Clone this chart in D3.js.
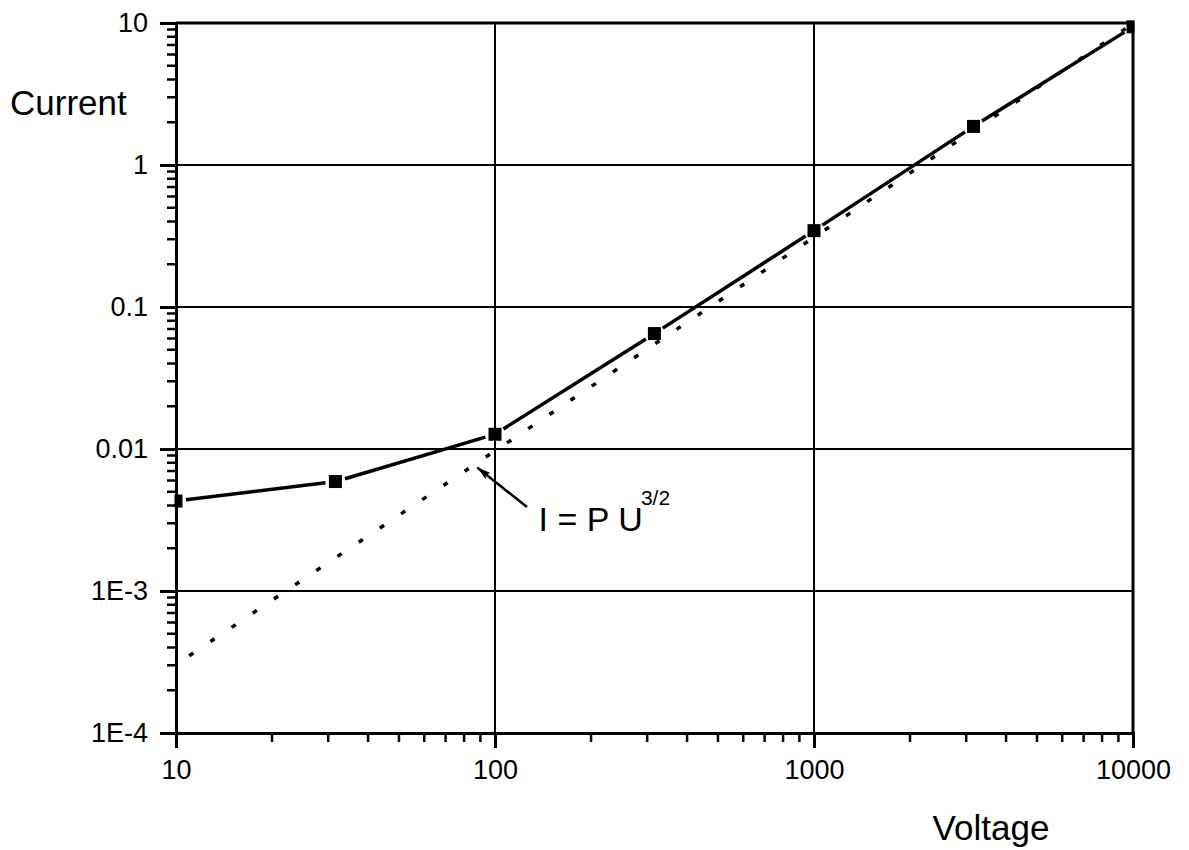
<!DOCTYPE html>
<html>
<head>
<meta charset="utf-8">
<script src="https://cdn.jsdelivr.net/npm/d3@7"></script>
<style>
  body { margin: 0; background: #fff; }
  svg text { font-family: "Liberation Sans", Arial, sans-serif; fill: #000; }
</style>
</head>
<body>
<svg id="chart" width="1189" height="850"></svg>
<script>
// measured points
const voltage = [10, 31.6, 100, 316, 1000, 3162, 10000];
const current = [0.0043, 0.0059, 0.0127, 0.065, 0.345, 1.87, 9.4];

// I = P U^(3/2) guide line, two ends
const fitVoltage = [11, 10000];
const fitCurrent = [0.00035, 9.9];

const xTicks = [10, 100, 1000, 10000];
const xTickLabels = ['10', '100', '1000', '10000'];
const yTicks = [1e-4, 1e-3, 0.01, 0.1, 1, 10];
const yTickLabels = ['1E-4', '1E-3', '0.01', '0.1', '1', '10'];

// arrow annotation (data coords)
const arrowFrom = [126, 0.0039];
const arrowTo = [88, 0.0074];
const labelAt = [137, 0.00265];

const svg = d3.select('#chart');
const plotLeft = 176, plotTop = 23, plotRight = 1133, plotBottom = 733;

const x = d3.scaleLog().domain([10, 10000]).range([plotLeft, plotRight]);
const y = d3.scaleLog().domain([1e-4, 10]).range([plotBottom, plotTop]);

// minor ticks 2..9 in every decade
function minors(lo, hi) {
  let out = [];
  for (let d = lo; d < hi; d *= 10) {
    for (let k = 2; k <= 9; k++) out.push(d * k);
  }
  return out;
}

// grid
svg.append('g').selectAll('line').data(xTicks.slice(1, -1)).join('line')
  .attr('x1', d => x(d)).attr('x2', d => x(d))
  .attr('y1', plotTop).attr('y2', plotBottom)
  .attr('stroke', '#000').attr('stroke-width', 2);
svg.append('g').selectAll('line').data(yTicks.slice(1, -1)).join('line')
  .attr('y1', d => y(d)).attr('y2', d => y(d))
  .attr('x1', plotLeft).attr('x2', plotRight)
  .attr('stroke', '#000').attr('stroke-width', 2);

// axes
const xAxis = d3.axisBottom(x).tickValues(xTicks)
  .tickFormat((d, i) => xTickLabels[i]).tickSize(15).tickPadding(12);
const gx = svg.append('g').attr('transform', `translate(0,${plotBottom})`).call(xAxis);
gx.selectAll('text').attr('font-size', 27);
gx.append('g').selectAll('line').data(minors(10, 10000)).join('line')
  .attr('x1', d => x(d)).attr('x2', d => x(d))
  .attr('y1', 0).attr('y2', 9).attr('stroke', '#000').attr('stroke-width', 2.5);

const yAxis = d3.axisLeft(y).tickValues(yTicks)
  .tickFormat((d, i) => yTickLabels[i]).tickSize(16).tickPadding(12);
const gy = svg.append('g').attr('transform', `translate(${plotLeft},0)`).call(yAxis);
gy.selectAll('text').attr('font-size', 27);
gy.append('g').selectAll('line').data(minors(1e-4, 10)).join('line')
  .attr('y1', d => y(d)).attr('y2', d => y(d))
  .attr('x1', 0).attr('x2', -9).attr('stroke', '#000').attr('stroke-width', 2.5);

[gx, gy].forEach(g => {
  g.select('.domain').attr('stroke-width', 3);
  g.selectAll('.tick line').attr('stroke-width', 3);
});

// frame top / right
svg.append('path')
  .attr('d', `M${plotLeft},${plotTop}H${plotRight}V${plotBottom}`)
  .attr('fill', 'none').attr('stroke', '#000').attr('stroke-width', 3);

// fit line, dotted
svg.append('path')
  .datum(d3.zip(fitVoltage, fitCurrent))
  .attr('d', d3.line().x(d => x(d[0])).y(d => y(d[1])))
  .attr('fill', 'none').attr('stroke', '#000')
  .attr('stroke-width', 3.5).attr('stroke-dasharray', '5 20.5');

// data line, broken around each marker
const pts = d3.zip(voltage, current).map(d => [x(d[0]), y(d[1])]);
const gap = 10;
const segs = d3.pairs(pts).map(([a, b]) => {
  let dx = b[0] - a[0], dy = b[1] - a[1], len = Math.hypot(dx, dy);
  let ux = dx / len, uy = dy / len;
  return [a[0] + ux * gap, a[1] + uy * gap, b[0] - ux * gap, b[1] - uy * gap];
});
svg.append('g').selectAll('line').data(segs).join('line')
  .attr('x1', d => d[0]).attr('y1', d => d[1])
  .attr('x2', d => d[2]).attr('y2', d => d[3])
  .attr('stroke', '#000').attr('stroke-width', 3.5);

// markers, clipped to the frame
svg.append('clipPath').attr('id', 'plotclip').append('rect')
  .attr('x', plotLeft - 1.5).attr('y', plotTop - 3)
  .attr('width', plotRight - plotLeft + 3).attr('height', plotBottom - plotTop + 6);
const ms = 13;
svg.append('g').attr('clip-path', 'url(#plotclip)')
  .selectAll('rect').data(pts).join('rect')
  .attr('x', d => d[0] - ms / 2).attr('y', d => d[1] - ms / 2)
  .attr('width', ms).attr('height', ms).attr('fill', '#000');

// arrow + label
svg.append('defs').append('marker')
  .attr('id', 'head').attr('viewBox', '0 0 14 8')
  .attr('refX', 14).attr('refY', 4)
  .attr('markerWidth', 14).attr('markerHeight', 8)
  .attr('markerUnits', 'userSpaceOnUse').attr('orient', 'auto')
  .append('path').attr('d', 'M0,0L14,4L0,8L3,4Z').attr('fill', '#000');
svg.append('line')
  .attr('x1', x(arrowFrom[0])).attr('y1', y(arrowFrom[1]))
  .attr('x2', x(arrowTo[0])).attr('y2', y(arrowTo[1]))
  .attr('stroke', '#000').attr('stroke-width', 2.5)
  .attr('marker-end', 'url(#head)');

const eq = svg.append('text')
  .attr('x', x(labelAt[0])).attr('y', y(labelAt[1]))
  .attr('font-size', 34);
eq.append('tspan').text('I = P U');
eq.append('tspan').attr('dx', -2).attr('dy', -26).attr('font-size', 21).text('3/2');

// axis titles
svg.append('text').attr('x', 10).attr('y', 115)
  .attr('font-size', 35).text('Current');
svg.append('text').attr('x', 991).attr('y', 840)
  .attr('text-anchor', 'middle').attr('font-size', 35).text('Voltage');
</script>
</body>
</html>
